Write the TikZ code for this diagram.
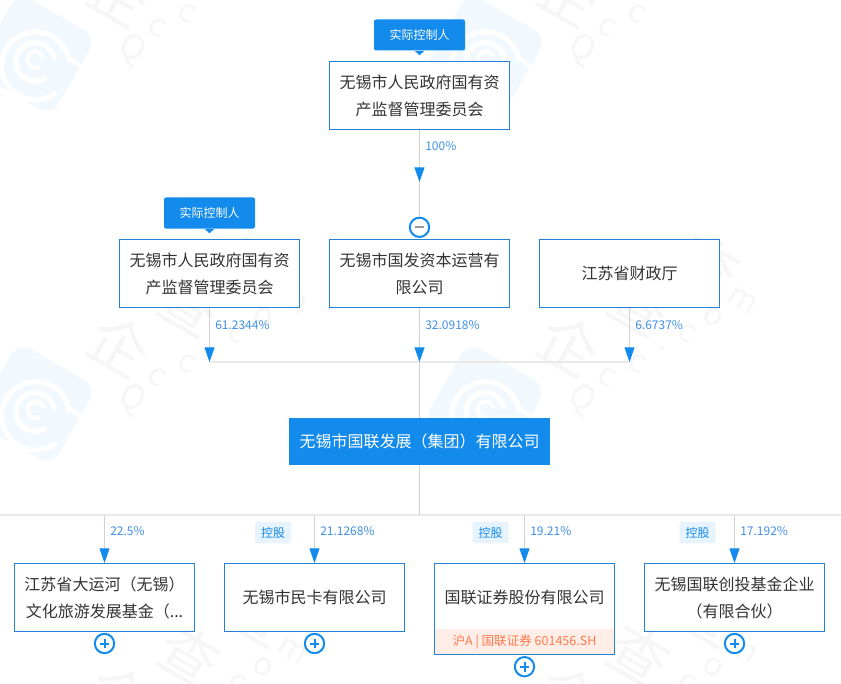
\documentclass[tikz,border=0pt]{standalone}
\usepackage{fontspec}
\setmainfont{Noto Sans CJK SC}
\usetikzlibrary{arrows.meta}
\definecolor{qblue}{HTML}{128BED}
\definecolor{qborder}{HTML}{2581D5}
\definecolor{qline}{HTML}{D2D2D2}
\definecolor{qbus}{HTML}{E9E9E9}
\definecolor{qtext}{HTML}{333333}
\definecolor{qpct}{HTML}{3F8FE8}
\definecolor{qtag}{HTML}{E7F3FF}
\definecolor{qband}{HTML}{FFEEE8}
\definecolor{qorange}{HTML}{FF7A4D}
\definecolor{wmlogo}{HTML}{F1F8FE}
\definecolor{wmtext}{HTML}{F6F6F6}
\tikzset{
  px/.style={x=0.75pt,y=-0.75pt},
  entity/.style={draw=qborder,fill=white,line width=0.75pt,inner sep=0pt,align=center,text=qtext,
    minimum width=135pt,minimum height=51pt,text width=130pt,
    font=\fontsize{12}{20.25}\selectfont},
  mainbox/.style={fill=qblue,inner sep=0pt,text=white,minimum width=195.75pt,minimum height=35.25pt,
    font=\fontsize{12}{16}\selectfont},
  conn/.style={draw=qline,line width=0.75pt},
  arrowconn/.style={conn,-{Triangle[length=11pt,width=7.5pt,color=qblue]},shorten >=0pt},
  bus/.style={draw=qbus,line width=1.5pt},
  pct/.style={text=qpct,anchor=west,inner sep=0pt,font=\fontsize{9}{11}\selectfont},
  ctrltag/.style={fill=qblue,text=white,rounded corners=1.5pt,inner sep=0pt,minimum width=68.25pt,minimum height=23.25pt,font=\fontsize{9}{11}\selectfont},
  holdtag/.style={fill=qtag,text=qblue,rounded corners=1pt,inner sep=0pt,minimum width=27pt,minimum height=16pt,font=\fontsize{9}{11}\selectfont},
  toggle/.style={circle,draw=qblue,fill=white,line width=1.5pt,minimum size=14.5pt,inner sep=0pt},
  plusbar/.style={draw=qblue,line width=1.5pt},
  minusbar/.style={draw=gray!80,line width=1.5pt},
  wmchar/.style={text=wmtext,inner sep=0pt,rotate=-30},
  wmring/.style={draw=white,line cap=round},
}
\begin{document}
\begin{tikzpicture}[px]
\useasboundingbox (0,0) rectangle (841,684);
\fill[white] (0,0) rectangle (841,684);
% watermark
\begin{scope}
\clip (0,0) rectangle (841,684);
\foreach \wx/\wy/\wn in {35/54/a,485/54/b,35/404/c,485/404/d,35/754/e,485/754/f}{
  \begin{scope}[shift={(\wx,\wy)}]
    \node[fill=wmlogo,rounded corners=11pt,minimum size=68pt,rotate=-30,inner sep=0pt] (logo\wn) at (0,0) {};
    \draw[wmring,line width=3.75pt] (34,6) arc[start angle=10,end angle=305,radius=25.5pt];
    \draw[wmring,line width=3.75pt] (19,4) arc[start angle=12,end angle=300,radius=14.5pt];
    \draw[wmring,line width=3pt] (8,3) arc[start angle=20,end angle=290,radius=6pt];
    \draw[wmring,line width=3pt] (34,4) -- (46,13);
    \node[wmchar,font=\fontsize{44}{44}\selectfont] (wa\wn) at (85,-59) {企};
    \node[wmchar,font=\fontsize{44}{44}\selectfont] (wb\wn) at (155,-99) {查};
    \node[wmchar,font=\fontsize{44}{44}\selectfont] (wc\wn) at (225,-139) {查};
    \node[wmchar,font=\fontsize{25}{25}\selectfont] (wd\wn) at (97,-4) {Q};
    \node[wmchar,font=\fontsize{24}{24}\selectfont] (we\wn) at (122,-27) {c};
    \node[wmchar,font=\fontsize{24}{24}\selectfont] (wf\wn) at (152,-41) {c};
    \node[wmchar,font=\fontsize{24}{24}\selectfont] (wg\wn) at (177,-56) {.};
    \node[wmchar,font=\fontsize{24}{24}\selectfont] (wh\wn) at (202,-71) {c};
    \node[wmchar,font=\fontsize{24}{24}\selectfont] (wi\wn) at (228,-87) {o};
    \node[wmchar,font=\fontsize{24}{24}\selectfont] (wj\wn) at (258,-104) {m};
  \end{scope}
}
\end{scope}

% nodes
\node[entity] (gov1) at (419.5,95.5) {无锡市人民政府国有资\\产监督管理委员会};
\node[ctrltag] (tag1) at (419.5,35) {实际控制人};
\fill[qblue] (tag1.south) ++(-5,0) -- ++(10,0) -- ++(-5,4.5) -- cycle;
\node[toggle] (minus) at (419.5,227.3) {};
\draw[minusbar] ([xshift=-3.7pt]minus.center) -- ([xshift=3.7pt]minus.center);

\node[entity] (gov2) at (209.5,273.5) {无锡市人民政府国有资\\产监督管理委员会};
\node[ctrltag] (tag2) at (209.5,213) {实际控制人};
\fill[qblue] (tag2.south) ++(-5,0) -- ++(10,0) -- ++(-5,4.5) -- cycle;
\node[entity] (guofa) at (419.5,273.5) {无锡市国发资本运营有\\限公司};
\node[entity] (caizheng) at (629.5,273.5) {江苏省财政厅};

\node[mainbox] (main) at (419.5,441.5) {无锡市国联发展（集团）有限公司};

\node[entity] (c1) at (104.5,597.5) {江苏省大运河（无锡）\\文化旅游发展基金（...};
\node[entity] (c2) at (314.5,597.5) {无锡市民卡有限公司};
\node[entity,minimum height=68.25pt] (c3) at (524.5,609) {};
\node[fill=qband,inner sep=0pt,minimum width=134pt,minimum height=18.75pt,text=qorange,font=\fontsize{9.4}{11}\selectfont] (band) at (524.5,641.8) {沪A | 国联证券 601456.SH};
\node[text=qtext,inner sep=0pt,font=\fontsize{12}{16}\selectfont] (c3t) at (524.5,597) {国联证券股份有限公司};
\node[entity] (c4) at (734.5,597.5) {无锡国联创投基金企业\\（有限合伙）};

% plus toggles
\foreach \n/\px/\py in {t1/104.5/643.5,t2/314.5/643.5,t3/524.5/666.7,t4/734.5/643.5}{
  \node[toggle] (\n) at (\px,\py) {};
  \draw[plusbar] ([xshift=-3.7pt]\n.center) -- ([xshift=3.7pt]\n.center);
  \draw[plusbar] ([yshift=-3.7pt]\n.center) -- ([yshift=3.7pt]\n.center);
}

% hold tags
\node[holdtag] (h2) at (273,532.5) {控股};
\node[holdtag] (h3) at (490.5,532.5) {控股};
\node[holdtag] (h4) at (697.5,532.5) {控股};

% coordinates
\coordinate (tip0) at (419.5,182);
\coordinate (busL) at (209.5,362);
\coordinate (busM) at (419.5,362);
\coordinate (busR) at (629.5,362);
\coordinate (bus2L) at (0,515);
\coordinate (bus2M) at (419.5,515);
\coordinate (bus2R) at (841,515);
\coordinate (b1) at (104.5,515);
\coordinate (b2) at (314.5,515);
\coordinate (b3) at (524.5,515);
\coordinate (b4) at (734.5,515);

% connectors
\draw[bus] (busL) -- (busR);
\draw[bus] (bus2L) -- (bus2R);
\draw[conn] (tip0) -- (minus);
\draw[arrowconn] (gov1) -- (tip0);
\draw[arrowconn] (gov2) -- (busL);
\draw[arrowconn] (guofa) -- (busM);
\draw[arrowconn] (caizheng) -- (busR);
\draw[conn] (busM) -- (main);
\draw[conn] (main) -- (bus2M);
\draw[arrowconn] (b1) -- (c1);
\draw[arrowconn] (b2) -- (c2);
\draw[arrowconn] (b3) -- (c3);
\draw[arrowconn] (b4) -- (c4);

% percentages
\node[pct] (p0) at (425,146.5) {100\%};
\node[pct] (p1) at (215,325.5) {61.2344\%};
\node[pct] (p2) at (425,325.5) {32.0918\%};
\node[pct] (p3) at (635,325.5) {6.6737\%};
\node[pct] (p4) at (110,531.5) {22.5\%};
\node[pct] (p5) at (320,531.5) {21.1268\%};
\node[pct] (p6) at (530,531.5) {19.21\%};
\node[pct] (p7) at (740,531.5) {17.192\%};
\end{tikzpicture}
\end{document}
